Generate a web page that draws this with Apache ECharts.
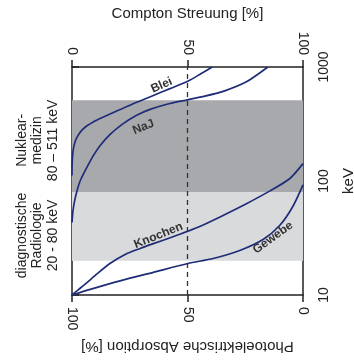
<!DOCTYPE html>
<html>
<head>
<meta charset="utf-8">
<script src="https://cdn.jsdelivr.net/npm/echarts@6/dist/echarts.min.js"></script>
<style>
  html, body { margin: 0; padding: 0; background: #fff; }
  #chart { width: 354px; height: 363px; }
</style>
</head>
<body>
<div id="chart"></div>
<script>
// curves: [Compton %, keV]
const bleiData = [[60.7,1000],[55.4,863],[50.3,754],[42.4,646],[35.2,562],[28.0,490],[20.8,423],[13.6,364],[9.2,330],[6.5,305],[4.2,278],[2.5,249],[1.4,223],[0.7,197],[0.26,168],[0.04,137],[0,112]];
const najData = [[84.8,1000],[75.5,741],[66.1,618],[57.5,555],[50.0,515],[42.4,478],[33.8,425],[28.0,377],[21.7,314],[16.5,256],[12.2,205],[9.3,168],[6.2,129],[3.6,101],[2.2,82.6],[1.0,64.9],[0.35,53],[0,43.3]];
const knochenData = [[100,142],[94.2,104.7],[85.5,81.5],[75.5,63.2],[65.4,49.9],[55.3,39.9],[50.2,36.3],[42.5,31.8],[35.2,28.2],[29.5,25.6],[23.0,22.7],[16.4,18.9],[10.8,15.3],[6.2,12.7],[2.7,11.1],[0,10]];
const gewebeData = [[100,92.4],[95.6,59.8],[89.9,40.7],[82.7,30.7],[72.6,24.6],[61.1,20.9],[50.2,18.9],[35.2,15.8],[20.8,13.3],[7.9,11.2],[0,10]];

// energy bands (keV)
const radiologieBand = [20, 80];
const nuklearBand = [80, 511];

const curveNames = ['Blei', 'NaJ', 'Knochen', 'Gewebe'];

const FONT = '"Liberation Sans", Arial, sans-serif';
const NAVY = '#1f2c78';
const INK = '#222';

const chart = echarts.init(document.getElementById('chart'));

function lineSeries(name, data) {
    return {
        name: name,
        type: 'line',
        xAxisIndex: 0,
        yAxisIndex: 0,
        data: data,
        smooth: 0.25,
        symbol: 'none',
        lineStyle: { color: NAVY, width: 1.7 },
        silent: true,
        z: 3
    };
}

const axisLine = { show: true, lineStyle: { color: INK, width: 1.5 } };

chart.setOption({
    animation: false,
    grid: { left: 72, right: 51, top: 67, bottom: 68, containLabel: false, outerBoundsMode: 'none' },
    xAxis: [
        {
            type: 'value', position: 'top', min: 0, max: 100, interval: 50,
            axisLine: axisLine,
            axisTick: { show: true, length: 7, lineStyle: { color: INK, width: 1.5 } },
            axisLabel: { rotate: 90, margin: 12, fontSize: 14, color: INK, fontFamily: FONT },
            splitLine: { show: false },
            name: 'Compton Streuung [%]', nameLocation: 'middle', nameGap: 46,
            nameTextStyle: { fontSize: 15, color: INK, fontFamily: FONT }
        },
        {
            type: 'value', position: 'bottom', min: 0, max: 100, interval: 50, inverse: true,
            axisLine: axisLine,
            axisTick: { show: true, length: 7, lineStyle: { color: INK, width: 1.5 } },
            axisLabel: { rotate: -90, margin: 12, fontSize: 14, color: INK, fontFamily: FONT },
            splitLine: { show: false },
            name: 'Photoelektrische Absorption [%]', nameLocation: 'middle', nameGap: 44, nameRotate: 180,
            nameTextStyle: { fontSize: 15, color: INK, fontFamily: FONT }
        }
    ],
    yAxis: [
        {
            type: 'log', logBase: 10, position: 'right', min: 10, max: 1000,
            axisLine: axisLine,
            axisTick: { show: true, length: 7, lineStyle: { color: INK, width: 1.5 } },
            minorTick: { show: false },
            axisLabel: {
                rotate: 90, margin: 14, fontSize: 14, color: INK, fontFamily: FONT,
                formatter: function (v) { return String(Math.round(v)); }
            },
            splitLine: { show: false },
            name: 'keV', nameLocation: 'middle', nameGap: 38, nameRotate: 90,
            nameTextStyle: { fontSize: 15, color: INK, fontFamily: FONT }
        },
        {
            type: 'log', logBase: 10, position: 'left', min: 10, max: 1000,
            axisLine: axisLine,
            axisTick: { show: false },
            axisLabel: { show: false },
            splitLine: { show: false }
        }
    ],
    series: [
        Object.assign(lineSeries(curveNames[0], bleiData), {
            markArea: {
                silent: true,
                z: 1,
                data: [
                    [{ yAxis: radiologieBand[0], itemStyle: { color: '#d9dadc' } }, { yAxis: radiologieBand[1] }],
                    [{ yAxis: nuklearBand[0], itemStyle: { color: '#a8a9ac' } }, { yAxis: nuklearBand[1] }]
                ]
            },
            markLine: {
                silent: true,
                symbol: 'none',
                label: { show: false },
                lineStyle: { color: '#333', width: 1.3, type: [5, 4] },
                data: [{ xAxis: 50 }]
            }
        }),
        lineSeries(curveNames[1], najData),
        lineSeries(curveNames[2], knochenData),
        lineSeries(curveNames[3], gewebeData)
    ]
});

// text placement anchored in data space: [Compton %, keV, rotation deg]
const curveLabelAnchors = [[38.8, 690, 24], [30.9, 297, 22], [37.4, 33.3, 22], [87, 31.8, 36]];
const sideTexts = [
    { text: 'Nuklear-\nmedizin\n80 – 511 keV', kev: 227 },
    { text: 'diagnostische\nRadiologie\n20 - 80 keV', kev: 33.3 }
];

const graphics = [];
curveNames.forEach(function (name, i) {
    const a = curveLabelAnchors[i];
    const p = chart.convertToPixel({ xAxisIndex: 0, yAxisIndex: 0 }, [a[0], a[1]]);
    graphics.push({
        type: 'text', x: p[0], y: p[1], rotation: a[2] * Math.PI / 180, z: 10,
        style: {
            text: name, fill: '#333', font: 'bold 12px ' + FONT,
            textAlign: 'center', textVerticalAlign: 'middle'
        }
    });
});
sideTexts.forEach(function (s) {
    const p = chart.convertToPixel({ xAxisIndex: 0, yAxisIndex: 0 }, [0, s.kev]);
    graphics.push({
        type: 'text', x: 37.5, y: p[1], rotation: Math.PI / 2, z: 10,
        style: {
            text: s.text, fill: INK, font: '14px ' + FONT, lineHeight: 15.5,
            textAlign: 'center', textVerticalAlign: 'middle'
        }
    });
});
chart.setOption({ graphic: graphics });
</script>
</body>
</html>
